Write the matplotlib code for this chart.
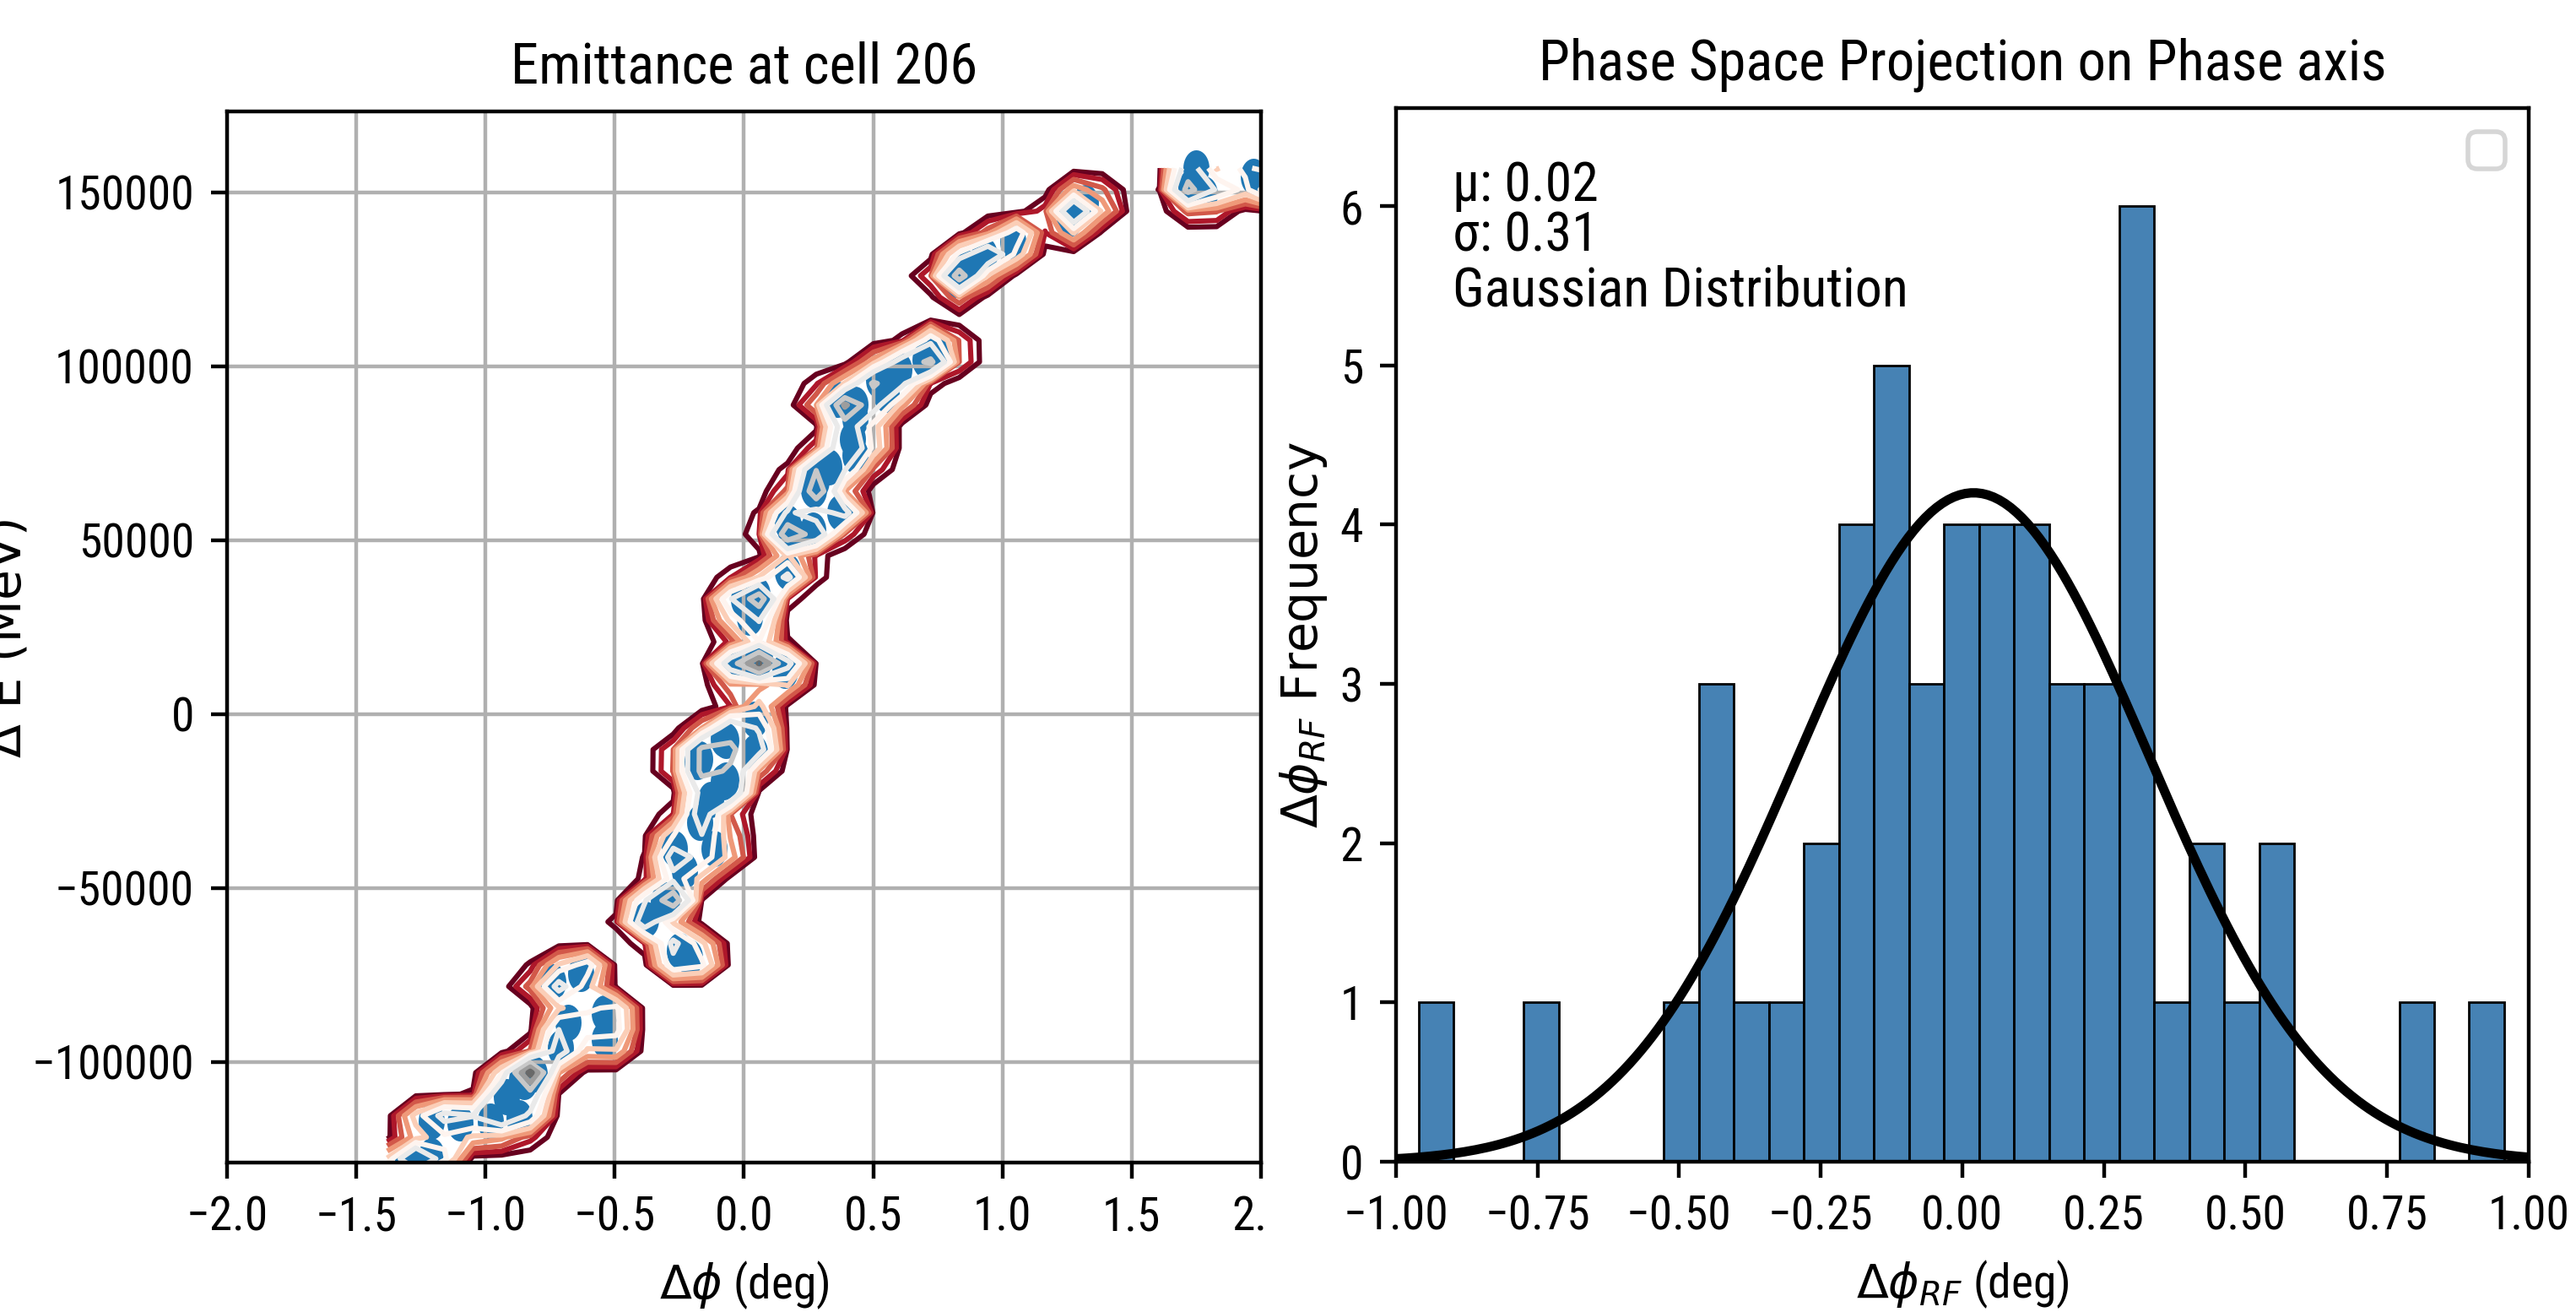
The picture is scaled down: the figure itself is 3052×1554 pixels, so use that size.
import os
import numpy as np
import matplotlib
matplotlib.use("Agg")
import matplotlib.pyplot as plt
from matplotlib import font_manager as fm
from matplotlib.path import Path
from matplotlib.patches import Rectangle

# ---------------- data ----------------
# Left panel: particle phase-space coordinates (deg, MeV)
PHI_DEG = [2.05, 1.97, 1.75, 1.73, 1.78,
           1.32, 1.26,
           1.04, 0.93, 0.86, 0.82,
           0.75, 0.70, 0.60, 0.52, 0.55, 0.43, 0.36,
           0.43, 0.42, 0.43, 0.33, 0.28, 0.27, 0.37, 0.265, 0.17, 0.18,
           0.17, 0.05, 0.00, 0.02, 0.06, 0.05, 0.16, -0.03, 0.04, 0.04,
           -0.07, -0.08, -0.17, -0.18, -0.07, -0.08, -0.13, -0.17, -0.115, -0.27, -0.23,
           -0.30, -0.31, -0.38, -0.25, -0.21,
           -0.63, -0.74, -0.68, -0.54, -0.54, -0.71,
           -0.85, -0.86, -0.81, -0.92, -0.98, -0.87, -1.10, -1.21,
           -1.21, -1.30, -1.38]
DELTA_E = [151500, 154500, 157000, 151500, 149500,
           147000, 142500,
           136000, 132000, 128500, 125000,
           104500, 102000, 99000, 96000, 92000, 89000, 90500,
           85000, 79000, 74500, 71000, 67000, 64500, 58000, 53000, 55000, 52500,
           41000, 34500, 33000, 28000, 16000, 15500, 12500, 13500, -1500, -11000,
           -7500, -7000, -13000, -13500, -19000, -19500, -24500, -31000, -38500, -38500, -45000,
           -53500, -54000, -59000, -68000, -70000,
           -74500, -77000, -88500, -86000, -93500, -96000,
           -105500, -105000, -103500, -110000, -117000, -116000, -117500, -117000,
           -127000, -128500, -134000]

# Right panel: histogram of phase deviation
BIN_LO, BIN_HI, N_BINS = -0.960, 0.957, 31
COUNTS = [1, 0, 0, 1, 0, 0, 0, 1, 3, 1, 1, 2, 4, 5, 3, 4,
          4, 4, 3, 3, 6, 1, 2, 1, 2, 0, 0, 0, 1, 0, 1]
MU, SIGMA = 0.02, 0.31
CURVE_PEAK = 4.2

# ---------------- fonts ----------------
def pick_condensed():
    cands = [("Noto Sans", "condensed"), ("Noto Sans Condensed", "normal"),
             ("Roboto Condensed", "normal"), ("Roboto", "condensed"),
             ("Liberation Sans Narrow", "normal"), ("DejaVu Sans", "condensed"),
             ("DejaVu Sans Condensed", "normal"), ("Open Sans", "condensed"),
             ("Open Sans Condensed", "normal")]
    for fam, st in cands:
        try:
            p = fm.findfont(fm.FontProperties(family=fam, stretch=st, weight="normal",
                                              style="normal"),
                            fallback_to_default=False)
        except Exception:
            continue
        b = os.path.basename(p).lower()
        if ("condensed" in b or "narrow" in b) and not any(
                k in b for k in ("bold", "italic", "light", "thin", "black", "medium", "semi", "extra")):
            try:
                name = fm.FontProperties(fname=p).get_name()
            except Exception:
                name = fam
            return name, st
    return "Liberation Sans", "normal"

FAM, STRETCH = pick_condensed()
plt.rcParams["font.family"] = [FAM, "DejaVu Sans"]
plt.rcParams["font.stretch"] = STRETCH
plt.rcParams["mathtext.fontset"] = "dejavusans"

DPI = 400
fig = plt.figure(figsize=(3052 / DPI, 1554 / DPI), dpi=DPI)

# ---------------- left panel ----------------
ax1 = fig.add_axes([0.0881, 0.1139, 0.4014, 0.8012])
x = np.array(PHI_DEG, dtype=float)
y = np.array(DELTA_E, dtype=float)

t = np.linspace(0, 2 * np.pi, 41)
ell = Path(np.column_stack([0.72 * np.cos(t), np.sin(t)]), closed=True)
ax1.scatter(x, y, s=60, marker=ell, color="#1f77b4", linewidths=0)

# coarse-grid gaussian KDE (values in units of "points")
NX, NY = 32, 48
xg = np.linspace(x.min(), x.max(), NX)
yg = np.linspace(y.min(), y.max(), NY)
XX, YY = np.meshgrid(xg, yg)
sx, sy = 0.05, 3000.0
dx = (XX.ravel()[:, None] - x[None, :]) / sx
dy = (YY.ravel()[:, None] - y[None, :]) / sy
Z = np.exp(-0.5 * (dx ** 2 + dy ** 2)).sum(1).reshape(XX.shape)

LEVELS = [0.05, 0.1, 0.17, 0.26, 0.38, 0.55, 0.8, 1.3, 1.7, 2.1]
lcolors = [plt.cm.RdGy(v) for v in np.linspace(0, 0.85, len(LEVELS))]
ax1.contour(XX, YY, Z, levels=LEVELS, colors=lcolors, linewidths=1.1)

ax1.set_xlim(-2, 2)
ax1.set_ylim(-128900, 173300)
ax1.set_xticks(np.arange(-2, 2.01, 0.5))
ax1.set_yticks(np.arange(-100000, 150001, 50000))
ax1.grid(True)
ax1.set_title("Emittance at cell 206")
ax1.set_xlabel(r"$\Delta\phi$ (deg)")
ax1.set_ylabel("Δ E (MeV)", family="DejaVu Sans", stretch="normal", fontsize=10.5)
ax1.yaxis.set_label_coords(-0.19, 0.5)

# ---------------- right panel ----------------
ax2 = fig.add_axes([0.5419, 0.1145, 0.4397, 0.8031])
edges = np.linspace(BIN_LO, BIN_HI, N_BINS + 1)
ax2.hist(edges[:-1], bins=edges, weights=COUNTS, color="steelblue",
         edgecolor="black", linewidth=0.5)
xc = np.linspace(-1, 1, 200)
ax2.plot(xc, CURVE_PEAK * np.exp(-0.5 * ((xc - MU) / SIGMA) ** 2), color="black", lw=2)
ax2.set_xlim(-1, 1)
ax2.set_ylim(0, 6.615)
ax2.set_title("Phase Space Projection on Phase axis")
ax2.set_xlabel(r"$\Delta\phi_{RF}$ (deg)")
ax2.set_ylabel(r"$\Delta\phi_{RF}$ Frequency", family="DejaVu Sans", stretch="normal",
               fontsize=10.5)
ax2.yaxis.set_label_coords(-0.059, 0.5)
ax2.text(0.05, 0.912, f"μ: {MU:.2f}", transform=ax2.transAxes, fontsize=11.5, va="baseline")
ax2.text(0.05, 0.864, f"σ: {SIGMA:.2f}", transform=ax2.transAxes, fontsize=11.5, va="baseline")
ax2.text(0.05, 0.812, "Gaussian Distribution", transform=ax2.transAxes, fontsize=11.5,
         va="baseline")
ax2.legend(handles=[], loc="upper right")

# clip the cut-off tick label between the two panels
fig.add_artist(Rectangle((1500 / 3052, 0.0), 80 / 3052, 0.1, transform=fig.transFigure,
                         facecolor="white", edgecolor="none", zorder=10))

fig.savefig("out.png", dpi=DPI)
